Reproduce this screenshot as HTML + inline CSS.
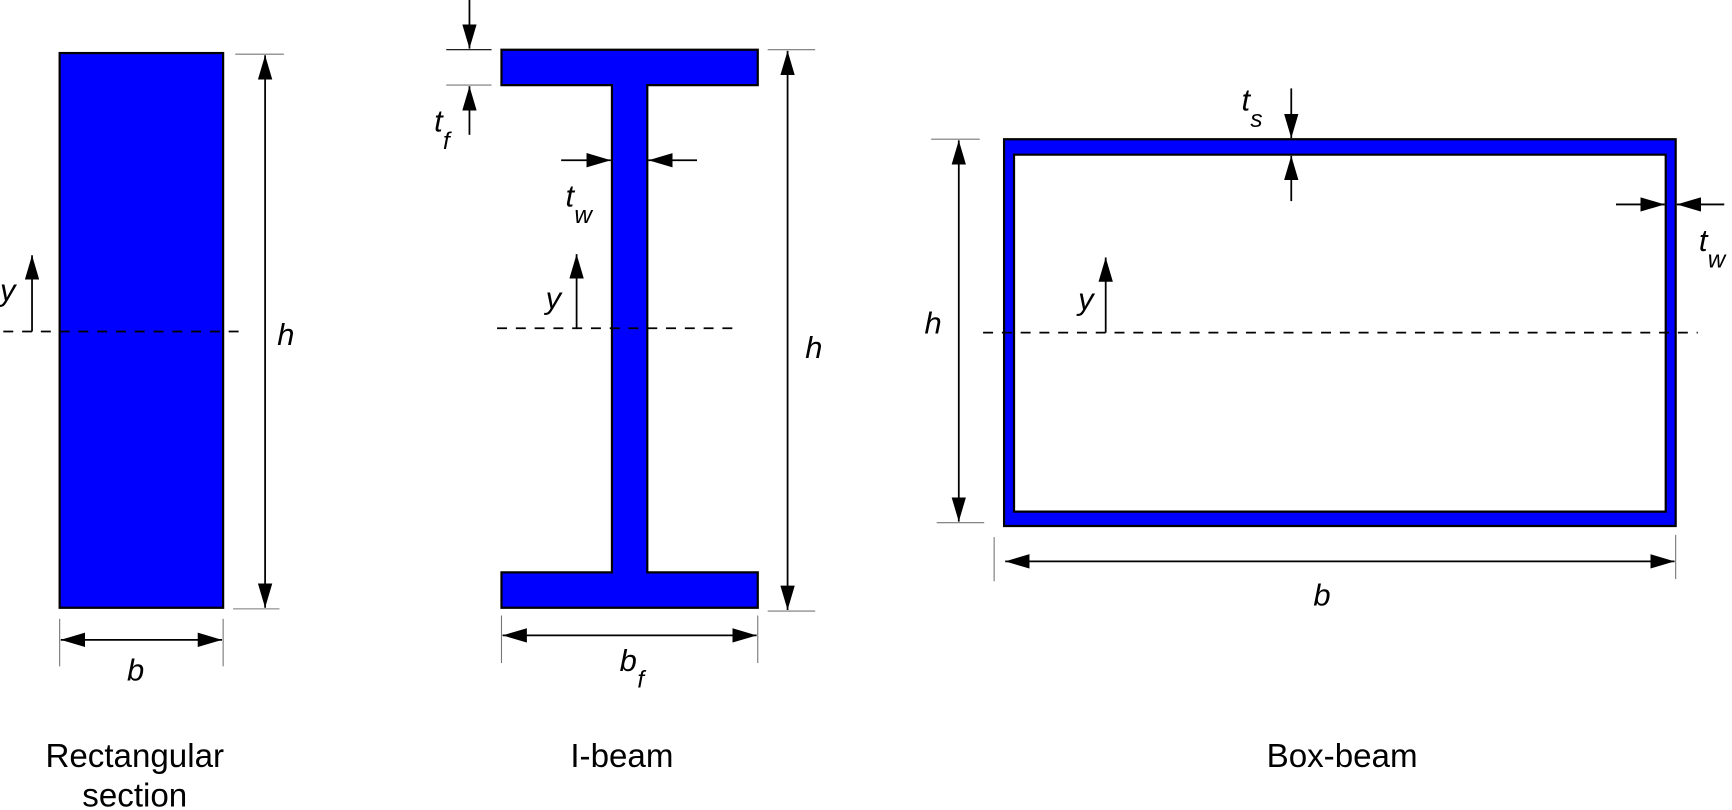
<!DOCTYPE html>
<html><head><meta charset="utf-8"><style>
html,body{margin:0;padding:0;background:#fff;}
svg{display:block;}
text{font-family:"Liberation Sans",Arial,sans-serif;fill:#000;}
.i{font-style:italic;font-size:28px;}
.s{font-size:22px;font-style:italic;}
.cap{font-size:30px;}
</style></head><body>
<svg width="1732" height="810" viewBox="0 0 1568 733" preserveAspectRatio="none" xmlns="http://www.w3.org/2000/svg">
<defs>
<marker id="a" viewBox="0 0 22 13" refX="22" refY="6.5" markerWidth="22" markerHeight="13" markerUnits="userSpaceOnUse" orient="auto-start-reverse">
<path d="M0,0 L22,6.5 L0,13 z" fill="#000"/></marker>
</defs>
<g stroke="#000" stroke-width="1.6" fill="none">
<!-- Rectangular -->
<rect x="54" y="48" width="148" height="502" fill="#0000ff" stroke-width="2"/>
<line x1="213" y1="49" x2="257" y2="49" stroke="#777" stroke-width="1"/>
<line x1="211" y1="551" x2="253" y2="551" stroke="#777" stroke-width="1"/>
<line x1="240" y1="50" x2="240" y2="550" marker-start="url(#a)" marker-end="url(#a)"/>
<line x1="3" y1="300" x2="218" y2="300" stroke-dasharray="9,8"/>
<line x1="29" y1="300" x2="29" y2="231" marker-end="url(#a)"/>
<line x1="54" y1="560" x2="54" y2="603" stroke="#777" stroke-width="1"/>
<line x1="202" y1="560" x2="202" y2="603" stroke="#777" stroke-width="1"/>
<line x1="55" y1="579" x2="201" y2="579" marker-start="url(#a)" marker-end="url(#a)"/>
<!-- I-beam -->
<path d="M454,45 H686 V77 H586 V518 H686 V550 H454 V518 H554 V77 H454 Z" fill="#0000ff" stroke-width="2"/>
<line x1="404" y1="45" x2="445" y2="45" stroke-width="1"/>
<line x1="404" y1="77" x2="445" y2="77" stroke="#777" stroke-width="1"/>
<line x1="425" y1="0" x2="425" y2="44" marker-end="url(#a)"/>
<line x1="425" y1="122" x2="425" y2="78" marker-end="url(#a)"/>
<line x1="508" y1="145" x2="553" y2="145" marker-end="url(#a)"/>
<line x1="631" y1="145" x2="587" y2="145" marker-end="url(#a)"/>
<line x1="695" y1="45" x2="738" y2="45" stroke="#777" stroke-width="1"/>
<line x1="695" y1="553" x2="738" y2="553" stroke="#777" stroke-width="1"/>
<line x1="713" y1="46" x2="713" y2="552" marker-start="url(#a)" marker-end="url(#a)"/>
<line x1="450" y1="297" x2="665" y2="297" stroke-dasharray="9,8"/>
<line x1="522" y1="297" x2="522" y2="230" marker-end="url(#a)"/>
<line x1="454" y1="557" x2="454" y2="600" stroke="#777" stroke-width="1"/>
<line x1="686" y1="557" x2="686" y2="600" stroke="#777" stroke-width="1"/>
<line x1="455" y1="575" x2="685" y2="575" marker-start="url(#a)" marker-end="url(#a)"/>
<!-- Box -->
<path d="M909,126 H1517 V476 H909 Z M918,140 V463 H1508 V140 Z" fill="#0000ff" fill-rule="evenodd" stroke-width="2"/>
<line x1="843" y1="126" x2="887" y2="126" stroke="#777" stroke-width="1"/>
<line x1="848" y1="473" x2="891" y2="473" stroke="#777" stroke-width="1"/>
<line x1="868" y1="127" x2="868" y2="472" marker-start="url(#a)" marker-end="url(#a)"/>
<line x1="890" y1="301" x2="1537" y2="301" stroke-dasharray="9,8"/>
<line x1="1001" y1="301" x2="1001" y2="233" marker-end="url(#a)"/>
<line x1="1169" y1="80" x2="1169" y2="125" marker-end="url(#a)"/>
<line x1="1169" y1="182" x2="1169" y2="141" marker-end="url(#a)"/>
<line x1="1463" y1="185" x2="1507" y2="185" marker-end="url(#a)"/>
<line x1="1561" y1="185" x2="1518" y2="185" marker-end="url(#a)"/>
<line x1="900" y1="486" x2="900" y2="526" stroke="#777" stroke-width="1"/>
<line x1="1517" y1="484" x2="1517" y2="524" stroke="#777" stroke-width="1"/>
<line x1="910" y1="508" x2="1516" y2="508" marker-start="url(#a)" marker-end="url(#a)"/>
</g>
<!-- labels -->
<text class="i" x="0" y="272">y</text>
<text class="i" x="251" y="312">h</text>
<text class="i" x="115" y="616">b</text>
<text class="cap" x="122" y="694" text-anchor="middle">Rectangular</text>
<text class="cap" x="122" y="730" text-anchor="middle">section</text>

<text class="i" x="393" y="119">t</text><text class="s" x="401" y="135">f</text>
<text class="i" x="512" y="187">t</text><text class="s" x="520" y="202">w</text>
<text class="i" x="494" y="279">y</text>
<text class="i" x="729" y="324">h</text>
<text class="i" x="561" y="607">b</text><text class="s" x="577" y="622">f</text>
<text class="cap" x="563" y="694" text-anchor="middle">I-beam</text>

<text class="i" x="1124" y="100">t</text><text class="s" x="1132" y="115">s</text>
<text class="i" x="1538" y="227">t</text><text class="s" x="1546" y="242">w</text>
<text class="i" x="976" y="280">y</text>
<text class="i" x="837" y="302">h</text>
<text class="i" x="1189" y="548">b</text>
<text class="cap" x="1215" y="694" text-anchor="middle">Box-beam</text>
</svg>
</body></html>
